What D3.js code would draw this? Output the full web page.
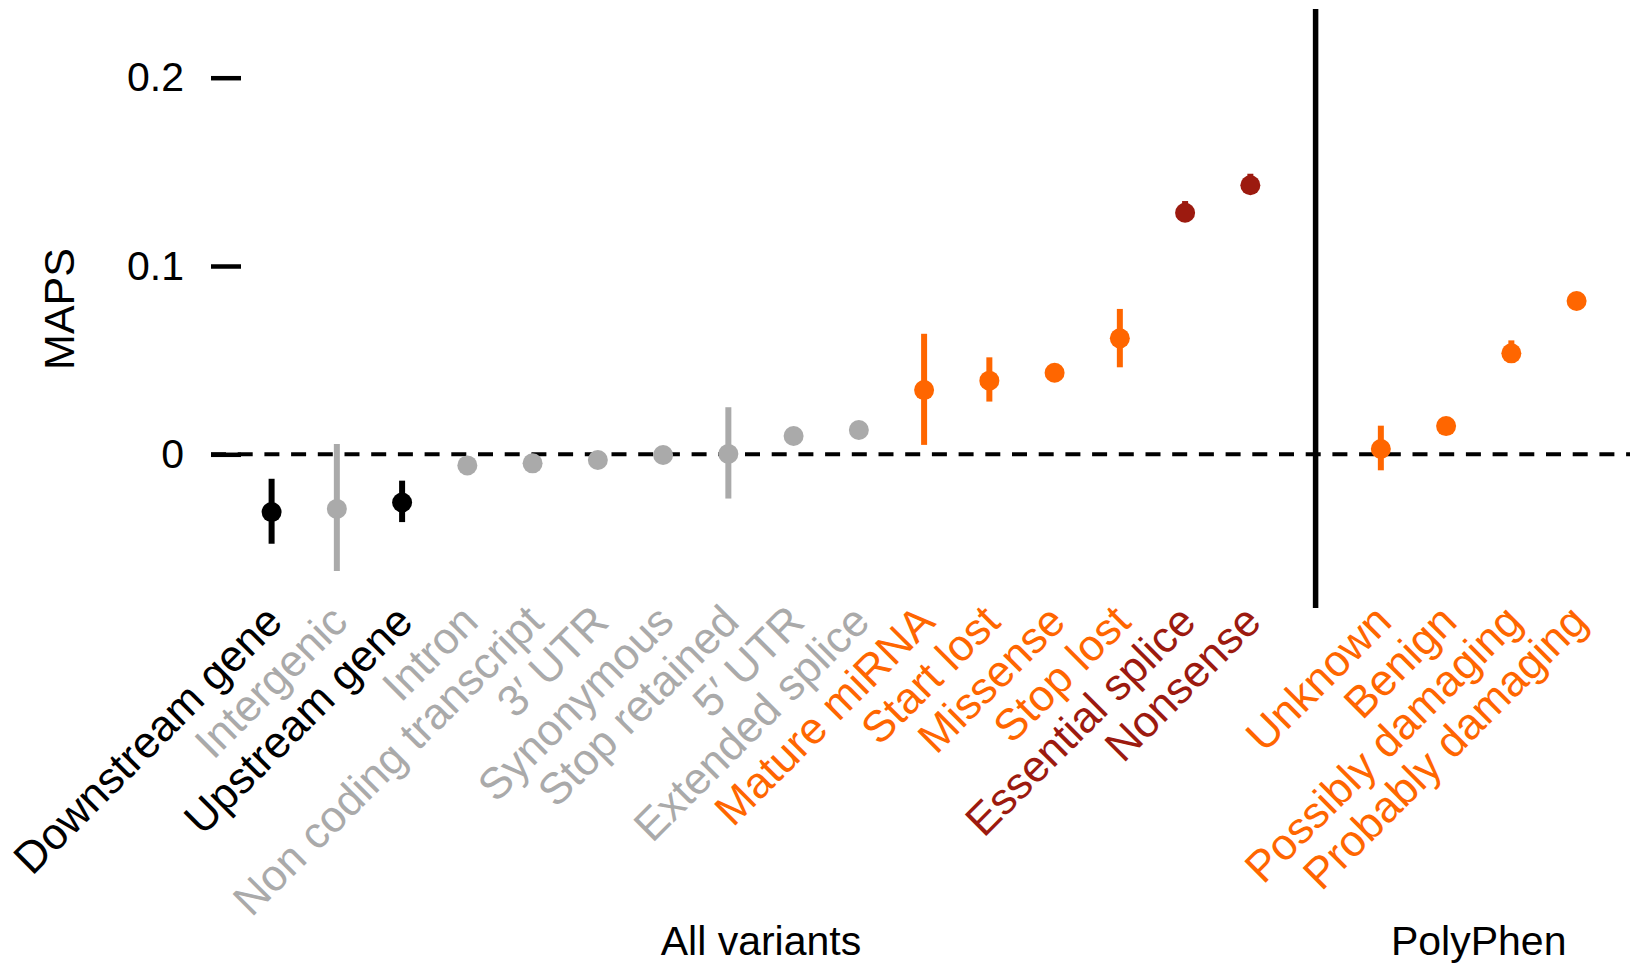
<!DOCTYPE html>
<html>
<head>
<meta charset="utf-8">
<script src="https://cdn.jsdelivr.net/npm/d3@7"></script>
<style>
  html, body { margin: 0; padding: 0; background: #fff; }
  svg { display: block; font-family: "Liberation Sans", Arial, Helvetica, sans-serif; }
</style>
</head>
<body>
<div id="chart"></div>
<script>
// MAPS by functional category
const categories = [
  "Downstream gene", "Intergenic", "Upstream gene", "Intron", "Non coding transcript",
  "3\u2032 UTR", "Synonymous", "Stop retained", "5\u2032 UTR", "Extended splice",
  "Mature miRNA", "Start lost", "Missense", "Stop lost", "Essential splice", "Nonsense",
  "Unknown", "Benign", "Possibly damaging", "Probably damaging"
];
const groups = [
  "all", "all", "all", "all", "all", "all", "all", "all", "all", "all",
  "all", "all", "all", "all", "all", "all",
  "polyphen", "polyphen", "polyphen", "polyphen"
];
const classes = [
  "black", "grey", "black", "grey", "grey", "grey", "grey", "grey", "grey", "grey",
  "orange", "orange", "orange", "orange", "red", "red",
  "orange", "orange", "orange", "orange"
];
const maps = [
  -0.0307, -0.0290, -0.0256, -0.0059, -0.0048, -0.0030, -0.0004, 0.0002, 0.0097, 0.0129,
  0.0341, 0.0391, 0.0433, 0.0616, 0.1283, 0.1429,
  0.0028, 0.0150, 0.0536, 0.0814
];
const lower = [
  -0.0475, -0.0620, -0.0360, -0.0075, -0.0062, -0.0044, -0.0016, -0.0235, 0.0086, 0.0117,
  0.0050, 0.0280, 0.0400, 0.0462, 0.1260, 0.1405,
  -0.0085, 0.0130, 0.0515, 0.0790
];
const upper = [
  -0.0130, 0.0055, -0.0140, -0.0043, -0.0034, -0.0016, 0.0008, 0.0250, 0.0108, 0.0141,
  0.0640, 0.0515, 0.0466, 0.0772, 0.1345, 0.1490,
  0.0152, 0.0170, 0.0605, 0.0838
];
const groupLabels = ["All variants", "PolyPhen"];
const yTicks = [0, 0.1, 0.2];

const colors = { black: "#000000", grey: "#aaaaaa", orange: "#ff6600", red: "#9c1a0f" };

const width = 1638, height = 963;
const svg = d3.select("#chart").append("svg")
  .attr("width", width)
  .attr("height", height);

// slot positions: 0..15 all variants, 16 = divider, 17..20 PolyPhen
const slot = (i) => groups[i] === "all" ? i : i + 1;
const x = d3.scaleLinear().domain([0, 20]).range([271.6, 1576.6]);
const y = d3.scaleLinear().domain([0, 0.2]).range([454.3, 77.7]);

const data = categories.map((c, i) => ({
  name: c, cls: classes[i], v: maps[i], lo: lower[i], hi: upper[i], pos: slot(i)
}));

// y axis
const yAxis = svg.append("g")
  .attr("transform", "translate(241,0)")
  .call(d3.axisLeft(y).tickValues(yTicks).tickSize(30).tickPadding(27)
    .tickFormat(d => d === 0 ? "0" : d3.format(".1f")(d)));
yAxis.select(".domain").remove();
yAxis.selectAll(".tick line").attr("stroke", "#000").attr("stroke-width", 4.5);
yAxis.selectAll(".tick text")
  .attr("font-size", 41)
  .attr("font-family", "'Liberation Sans', Arial, Helvetica, sans-serif")
  .attr("fill", "#000");

svg.append("text")
  .attr("transform", `translate(74,${309}) rotate(-90)`)
  .attr("text-anchor", "middle")
  .attr("font-size", 43)
  .text("MAPS");

// zero reference line
svg.append("line")
  .attr("x1", 211).attr("x2", 1630)
  .attr("y1", y(0)).attr("y2", y(0))
  .attr("stroke", "#000")
  .attr("stroke-width", 4)
  .attr("stroke-dasharray", "15,11.7");

// divider between groups
svg.append("line")
  .attr("x1", x(16)).attr("x2", x(16))
  .attr("y1", 9).attr("y2", 608)
  .attr("stroke", "#000")
  .attr("stroke-width", 5.5);

// error bars
svg.selectAll("line.err")
  .data(data)
  .enter()
  .append("line")
  .attr("class", "err")
  .attr("x1", d => x(d.pos)).attr("x2", d => x(d.pos))
  .attr("y1", d => y(d.lo)).attr("y2", d => y(d.hi))
  .attr("stroke", d => colors[d.cls])
  .attr("stroke-width", 6);

// points
svg.selectAll("circle")
  .data(data)
  .enter()
  .append("circle")
  .attr("cx", d => x(d.pos))
  .attr("cy", d => y(d.v))
  .attr("r", 10)
  .attr("fill", d => colors[d.cls]);

// rotated category labels
svg.selectAll("text.cat")
  .data(data)
  .enter()
  .append("text")
  .attr("class", "cat")
  .attr("transform", d => `translate(${x(d.pos) + 13},624) rotate(-45)`)
  .attr("text-anchor", "end")
  .attr("font-size", 44)
  .attr("fill", d => colors[d.cls])
  .text(d => d.name);

// group labels
svg.append("text")
  .attr("x", (x(0) + x(15)) / 2)
  .attr("y", 955)
  .attr("text-anchor", "middle")
  .attr("font-size", 41)
  .text(groupLabels[0]);

svg.append("text")
  .attr("x", (x(17) + x(20)) / 2)
  .attr("y", 955)
  .attr("text-anchor", "middle")
  .attr("font-size", 41)
  .text(groupLabels[1]);
</script>
</body>
</html>
